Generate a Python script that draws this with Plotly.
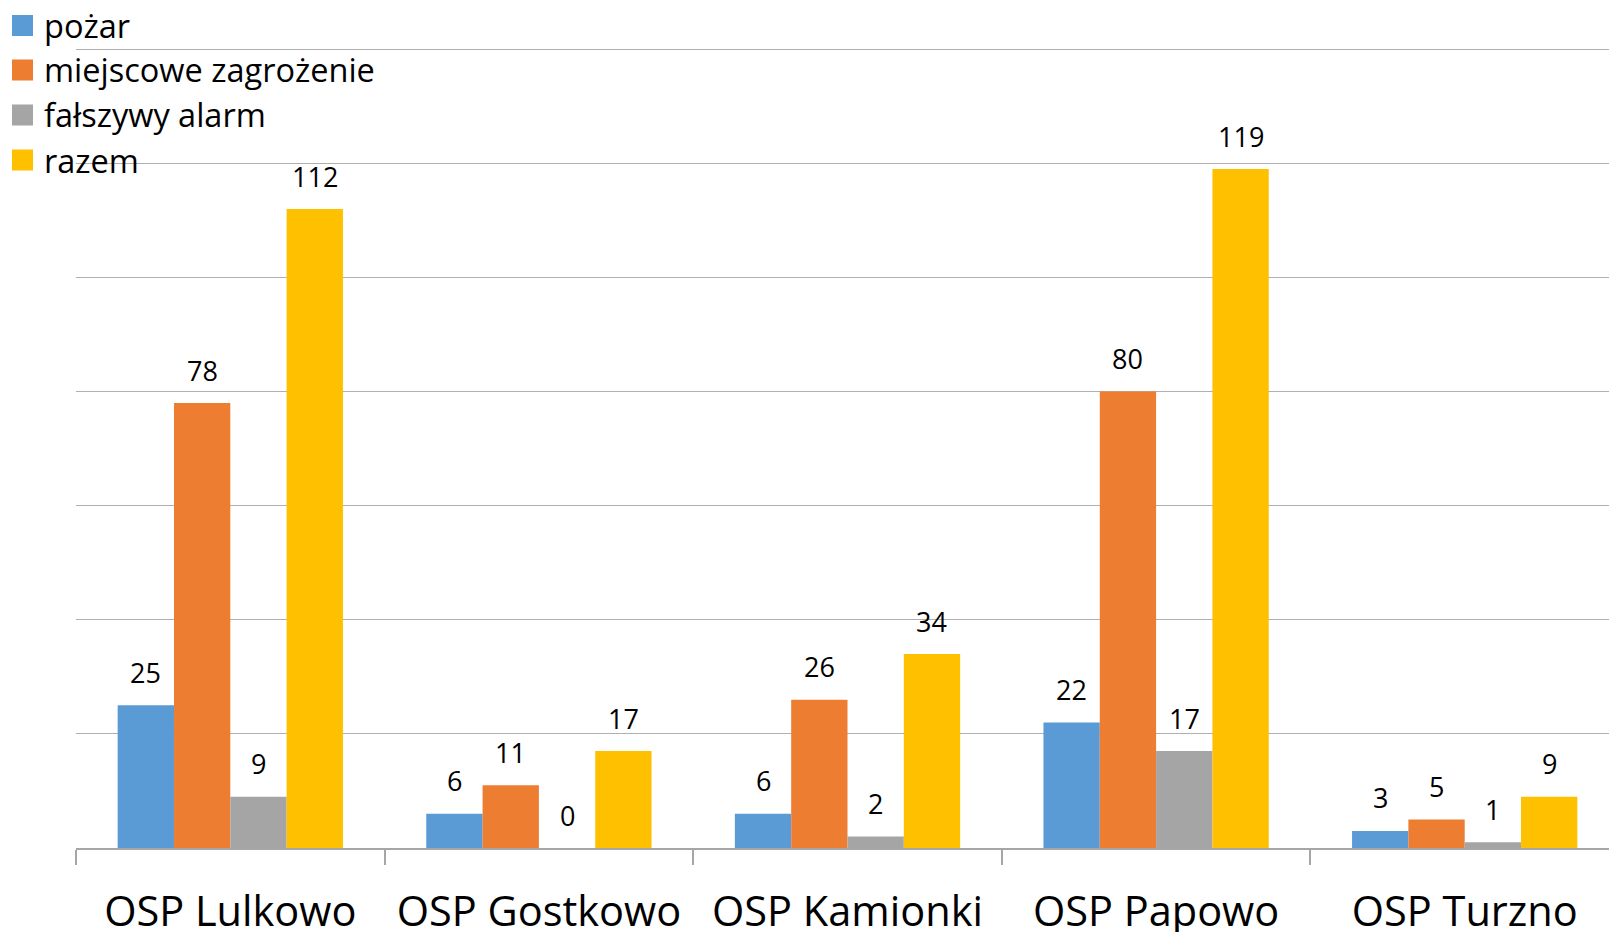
import plotly.graph_objects as go

categories = ["OSP Lulkowo", "OSP Gostkowo", "OSP Kamionki", "OSP Papowo", "OSP Turzno"]
series_names = ["pożar", "miejscowe zagrożenie", "fałszywy alarm", "razem"]
pozar = [25, 6, 6, 22, 3]
miejscowe = [78, 11, 26, 80, 5]
falszywy = [9, 0, 2, 17, 1]
razem = [112, 17, 34, 119, 9]
series_values = [pozar, miejscowe, falszywy, razem]
colors = ["#5B9BD5", "#ED7D31", "#A5A5A5", "#FFC000"]

W, H = 1619, 932
L, R, T, B = 76, 0, 47, 84
PW, PH = W - L - R, H - T - B
BARGAP = 0.27
FONT = "Open Sans"

def px_x(p):
    return (p - L) / PW

def px_y(p):
    return 1 - (p - T) / PH

fig = go.Figure()
for name, vals, col in zip(series_names, series_values, colors):
    fig.add_trace(go.Bar(x=categories, y=vals, name=name, marker=dict(color=col, line=dict(width=0)),
                         showlegend=False))

bar_px = PW / len(categories) * (1 - BARGAP) / len(series_names)
annotations = []
for j, vals in enumerate(series_values):
    for c, v in zip(categories, vals):
        annotations.append(dict(x=c, y=v, xref="x", yref="y", text=str(v), showarrow=False,
                                xshift=(j - 1.5) * bar_px, yshift=33, yanchor="middle",
                                font=dict(family=FONT, size=27, color="#000000")))

# manual legend
leg_centers = [25.5, 70, 115, 160]
shapes = []
for name, col, cy in zip(series_names, colors, leg_centers):
    shapes.append(dict(type="rect", xref="paper", yref="paper",
                       x0=px_x(12), x1=px_x(33), y0=px_y(cy + 10.5), y1=px_y(cy - 10.5),
                       fillcolor=col, line=dict(width=0), layer="above"))
    annotations.append(dict(x=px_x(42), y=px_y(cy), xref="paper", yref="paper", text=name,
                            showarrow=False, xanchor="left", yanchor="middle",
                            font=dict(family=FONT, size=32.5, color="#000000")))

fig.update_layout(
    width=W, height=H,
    margin=dict(l=L, r=R, t=T, b=B, autoexpand=False),
    paper_bgcolor="white", plot_bgcolor="white",
    barmode="group", bargap=BARGAP, bargroupgap=0,
    showlegend=False,
    annotations=annotations, shapes=shapes,
    font=dict(family=FONT),
    xaxis=dict(type="category", tickson="boundaries", ticks="outside", ticklen=15, tickwidth=1.5,
               tickcolor="#a6a6a6", showline=True, linecolor="#a6a6a6", linewidth=1.5,
               tickfont=dict(family=FONT, size=41.5, color="#000000"), automargin=False,
               ticklabelstandoff=26, showgrid=False),
    yaxis=dict(range=[0, 140.4], tickvals=[20, 40, 60, 80, 100, 120, 140], showticklabels=False,
               showgrid=True, gridcolor="#b0b0b0",
               gridwidth=1.3, zeroline=False, showline=False, automargin=False),
)

fig.write_html("out.html", config={"displayModeBar": False},
               post_script="document.body.style.margin='0';document.body.style.overflow='hidden';")
